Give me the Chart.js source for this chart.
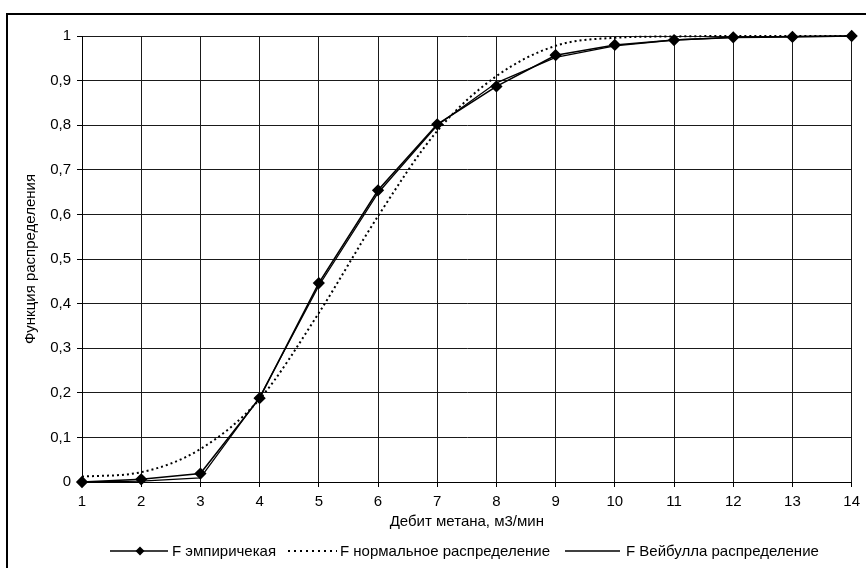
<!DOCTYPE html>
<html>
<head>
<meta charset="utf-8">
<script src="https://cdn.jsdelivr.net/npm/chart.js@4/dist/chart.umd.min.js"></script>
<style>
html,body{margin:0;padding:0;background:#fff;}
#wrap{width:866px;height:568px;position:relative;}
</style>
</head>
<body>
<div id="wrap"><canvas id="c" width="866" height="568"></canvas></div>
<script>
const xValues = [1,2,3,4,5,6,7,8,9,10,11,12,13,14];
const empirical = [0, 0.006, 0.019, 0.188, 0.446, 0.654, 0.802, 0.887, 0.957, 0.980, 0.991, 0.997, 0.998, 1.0];
const normalDist = [0.012, 0.022, 0.074, 0.186, 0.379, 0.596, 0.787, 0.910, 0.978, 0.996, 0.999, 1.0, 1.0, 1.0];
const weibull = [0, 0.002, 0.009, 0.190, 0.440, 0.648, 0.800, 0.895, 0.952, 0.978, 0.991, 0.997, 0.999, 1.0];
const seriesLabels = ['F эмпиричекая', 'F нормальное распределение', 'F Вейбулла распределение'];
const xTitle = 'Дебит метана, м3/мин';
const yTitle = 'Функция распределения';
const yTicks = [0,0.1,0.2,0.3,0.4,0.5,0.6,0.7,0.8,0.9,1];

const FONT = "'Liberation Sans', Arial, sans-serif";
const FS = 15;
const pts = arr => arr.map((v,i) => ({x: xValues[i], y: v}));

const frameAndLegend = {
  id: 'frameAndLegend',
  afterDraw(chart) {
    const ctx = chart.ctx;
    ctx.save();
    // outer frame
    ctx.strokeStyle = '#000';
    ctx.lineWidth = 2;
    ctx.strokeRect(7, 14, 900, 600);
    // legend
    const y = 551;
    ctx.font = FS + 'px ' + FONT;
    ctx.fillStyle = '#000';
    ctx.textBaseline = 'middle';
    ctx.textAlign = 'left';
    const ds = chart.data.datasets;
    // item 1: line with diamond
    ctx.strokeStyle = '#000';
    ctx.lineWidth = 1.5;
    ctx.setLineDash([]);
    ctx.beginPath(); ctx.moveTo(110, y); ctx.lineTo(168, y); ctx.stroke();
    ctx.beginPath();
    ctx.moveTo(140, y-4.5); ctx.lineTo(144.5, y); ctx.lineTo(140, y+4.5); ctx.lineTo(135.5, y); ctx.closePath();
    ctx.fill();
    ctx.fillText(ds[0].label, 172, y+1);
    // item 2: dotted
    ctx.lineWidth = 2;
    ctx.setLineDash([2,4]);
    ctx.beginPath(); ctx.moveTo(288, y); ctx.lineTo(337, y); ctx.stroke();
    ctx.setLineDash([]);
    ctx.fillText(ds[1].label, 340, y+1);
    // item 3: solid
    ctx.lineWidth = 1.5;
    ctx.beginPath(); ctx.moveTo(565, y); ctx.lineTo(620, y); ctx.stroke();
    ctx.fillText(ds[2].label, 626, y+1);
    ctx.restore();
  }
};

new Chart(document.getElementById('c'), {
  type: 'scatter',
  data: {
    datasets: [
      {
        label: seriesLabels[0],
        data: pts(empirical),
        showLine: true,
        borderColor: '#000',
        backgroundColor: '#000',
        borderWidth: 1.6,
        pointStyle: 'rectRot',
        pointRadius: 5,
        pointHoverRadius: 5,
        tension: 0,
        clip: false
      },
      {
        label: seriesLabels[1],
        data: pts(normalDist),
        showLine: true,
        borderColor: '#000',
        backgroundColor: '#000',
        borderWidth: 2,
        borderDash: [2,3],
        pointRadius: 0,
        cubicInterpolationMode: 'monotone',
        clip: false
      },
      {
        label: seriesLabels[2],
        data: pts(weibull),
        showLine: true,
        borderColor: '#000',
        backgroundColor: '#000',
        borderWidth: 1.3,
        pointRadius: 0,
        tension: 0,
        clip: false
      }
    ]
  },
  options: {
    responsive: false,
    animation: false,
    events: [],
    layout: { padding: { left: 10, right: 9, top: 36, bottom: 36 } },
    plugins: { legend: { display: false }, tooltip: { enabled: false } },
    scales: {
      x: {
        type: 'linear',
        min: 1, max: 14,
        afterFit(s) { s.height = 50; },
        ticks: { stepSize: 1, color: '#000', padding: 6, font: { family: FONT, size: FS }, maxRotation: 0 },
        grid: { color: '#1a1a1a', lineWidth: 1, tickLength: 5, tickColor: '#000' },
        border: { color: '#000', width: 1 },
        title: { display: true, text: xTitle, color: '#000', font: { family: FONT, size: FS }, padding: { top: 0, bottom: 1 } }
      },
      y: {
        min: 0, max: 1,
        afterFit(s) { s.width = 72; },
        afterBuildTicks(s) { s.ticks = yTicks.map(v => ({ value: v })); },
        ticks: {
          color: '#000', padding: 6, font: { family: FONT, size: FS },
          callback: v => (v === 0 || v === 1) ? String(v) : v.toFixed(1).replace('.', ',')
        },
        grid: { color: '#1a1a1a', lineWidth: 1, tickLength: 5, tickColor: '#000' },
        border: { color: '#000', width: 1 },
        title: { display: true, text: yTitle, color: '#000', font: { family: FONT, size: FS }, padding: { top: 12, bottom: 0 } }
      }
    }
  },
  plugins: [frameAndLegend]
});
</script>
</body>
</html>
